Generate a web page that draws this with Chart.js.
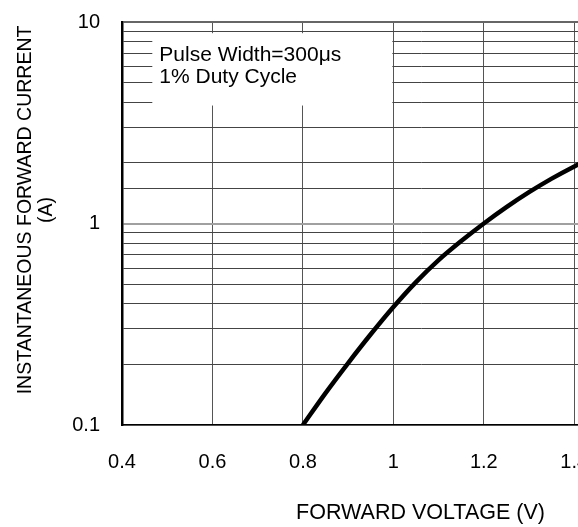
<!DOCTYPE html>
<html>
<head>
<meta charset="utf-8">
<script src="https://cdn.jsdelivr.net/npm/chart.js@4/dist/chart.umd.min.js"></script>
<style>
    html, body { margin: 0; padding: 0; background: #fff; overflow: hidden; }
    canvas { display: block; }
</style>
</head>
<body>
<canvas id="vfChart" width="749" height="527"></canvas>
<script>
// forward voltage (V) vs instantaneous forward current (A)
const voltage = [0.8, 0.85, 0.9, 0.95, 1.0, 1.05, 1.1, 1.15, 1.2, 1.25, 1.3, 1.35, 1.4, 1.45];
const current = [0.1, 0.144, 0.203, 0.282, 0.385, 0.512, 0.658, 0.818, 1.0, 1.205, 1.43, 1.67, 1.92, 2.18];

const yLabels = [0.1, 1, 10];
const xLabels = [0.4, 0.6, 0.8, 1, 1.2, 1.4];
const noteLines = ["Pulse Width=300μs", "1% Duty Cycle"];

const fontFamily = '"Liberation Sans", Arial, sans-serif';
Chart.defaults.font.family = fontFamily;
Chart.defaults.color = "#000";

function isDecade(v) {
    const lg = Math.log10(v);
    return Math.abs(lg - Math.round(lg)) < 1e-6;
}

// white box with the test conditions, covers the grid
const noteBox = {
    id: "noteBox",
    beforeDatasetsDraw(chart) {
        const { ctx, scales: { x, y } } = chart;
        const left = x.getPixelForValue(0.467);
        const right = x.getPixelForValue(1.0) - 1;
        const top = y.getPixelForValue(8.8);
        const bottom = y.getPixelForValue(3.85);
        ctx.save();
        ctx.fillStyle = "#fff";
        ctx.fillRect(left, top, right - left, bottom - top);
        ctx.fillStyle = "#000";
        ctx.font = "21px " + fontFamily;
        ctx.textBaseline = "alphabetic";
        noteLines.forEach((t, i) => ctx.fillText(t, left + 7, top + 28 + i * 22));
        ctx.restore();
    }
};

const data = {
    datasets: [{
        data: voltage.map((v, i) => ({ x: v, y: current[i] })),
        borderColor: "#000",
        borderWidth: 4.5,
        pointRadius: 0,
        cubicInterpolationMode: "monotone",
        fill: false
    }]
};

new Chart(document.getElementById("vfChart").getContext("2d"), {
    type: "line",
    data: data,
    plugins: [noteBox],
    options: {
        responsive: false,
        animation: false,
        events: [],
        layout: { padding: { top: 22, right: 30, left: 0, bottom: 0 } },
        plugins: {
            legend: { display: false },
            tooltip: { enabled: false }
        },
        scales: {
            x: {
                type: "linear",
                min: 0.4,
                max: 1.72,
                afterFit: s => { s.height = 102; },
                ticks: {
                    stepSize: 0.2,
                    autoSkip: false,
                    maxRotation: 0,
                    padding: 25,
                    font: { size: 20 },
                    callback: v => {
                        const r = Math.round(v * 10) / 10;
                        return xLabels.includes(r) ? String(r) : "";
                    }
                },
                grid: { drawTicks: false, color: "#555", lineWidth: 1 },
                border: { color: "#000", width: 1.5 },
                title: {
                    display: true,
                    text: "FORWARD VOLTAGE (V)",
                    font: { size: 21.5 },
                    padding: { top: 0, bottom: 1 }
                }
            },
            y: {
                type: "logarithmic",
                min: 0.1,
                max: 10,
                // fixed axis width; tick padding must not push the plot top down
                afterFit: s => { s.width = 122; s.paddingTop = 0; s.paddingBottom = 0; },
                ticks: {
                    autoSkip: false,
                    padding: 22,
                    font: { size: 20 },
                    callback: v => yLabels.includes(v) ? String(v) : ""
                },
                grid: {
                    drawTicks: false,
                    color: c => {
                        if (!c.tick) return "#555";
                        if (c.tick.value === 10) return "#666";
                        return isDecade(c.tick.value) ? "#a0a0a0" : "#444";
                    },
                    lineWidth: c => (c.tick && isDecade(c.tick.value)) ? 2 : 1
                },
                border: { color: "#000", width: 2.5 },
                title: {
                    display: true,
                    // leading spaces lift the rotated title a little, as in the source
                    text: ["     INSTANTANEOUS FORWARD CURRENT", "     (A)"],
                    font: { size: 19.5, lineHeight: 1.08 },
                    padding: { top: 15, bottom: 0 }
                }
            }
        }
    }
});
</script>
</body>
</html>
